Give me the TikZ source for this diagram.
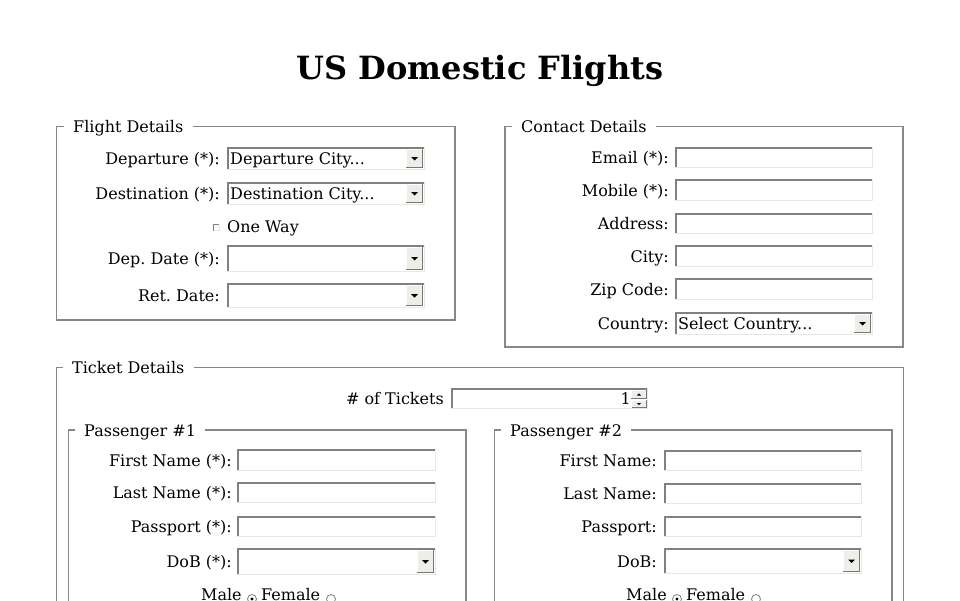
\documentclass[tikz,border=0pt]{standalone}
\usepackage{fontspec}
\setmainfont{DejaVu Serif}
\frenchspacing
\definecolor{fsborder}{RGB}{135,135,135}
\definecolor{indark}{RGB}{128,128,128}
\definecolor{inlight}{RGB}{232,232,226}
\definecolor{btnface}{RGB}{238,237,232}
\definecolor{btnshade}{RGB}{118,118,118}
\tikzset{
  lbl/.style={anchor=base east, inner sep=0, font=\fontsize{16}{19}\selectfont},
  txt/.style={anchor=base west, inner sep=0, font=\fontsize{16}{19}\selectfont},
  fslegend/.style={anchor=base west, inner ysep=0, inner xsep=9pt, font=\fontsize{16}{19}\selectfont},
  fsline/.style={fsborder, line width=1.5},
}
\newcommand\tbox[4]{%
  \fill[white] (#1,#2) rectangle (#3,#4);
  \draw[inlight,line width=1] ({#1},{#4-0.5}) -- ({#3-0.5},{#4-0.5}) -- ({#3-0.5},{#2});
  \draw[indark,line width=1.5] ({#1+0.75},{#4-1}) -- ({#1+0.75},{#2+0.75}) -- ({#3-1},{#2+0.75});
}
\newcommand\combo[4]{%
  \tbox{#1}{#2}{#3}{#4}
  \fill[btnface] ({#3-19},{#2+2}) rectangle ({#3-2},{#4-2});
  \draw[white,line width=1] ({#3-18.5},{#4-2}) -- ({#3-18.5},{#2+2.5}) -- ({#3-2},{#2+2.5});
  \draw[btnshade,line width=1.2] ({#3-19},{#4-2.6}) -- ({#3-2.6},{#4-2.6}) -- ({#3-2.6},{#2+2});
  \fill[black] ({#3-14},{(#2+#4)/2-1.5}) -- ({#3-7},{(#2+#4)/2-1.5}) -- ({#3-10.5},{(#2+#4)/2+2}) -- cycle;
}
\newcommand\fieldset[7]{%
  \node[fslegend] (#1) at (#6,{#3+6}) {#7};
  \coordinate (#1t) at (0,#3);
  \draw[fsline] (#1.east |- #1t) -- (#4,#3) -- (#4,#5) -- (#2,#5) -- (#2,#3) -- (#1.west |- #1t);
}
\newcommand\radio[3]{%
  \draw[indark,line width=0.8,fill=white] (#1,#2) circle (4.5);
  \ifnum#3=1 \fill[black] (#1,#2) circle (1.7);\fi
}
\begin{document}
\begin{tikzpicture}[x=1pt,y=-1pt]
\useasboundingbox (0,0) rectangle (960,600);
\clip (0,0) rectangle (960,600);
\fill[white] (0,0) rectangle (960,600);

\node[anchor=base, inner sep=0, font=\fontsize{32}{38}\selectfont\bfseries] (title) at (480,79) {US Domestic Flights};

% ---------- Flight details
\fieldset{fdl}{56.5}{126.5}{455}{320}{64}{Flight Details}
\node[lbl] (fl1) at (220,164.5) {Departure (*):};
\combo{227}{147}{425}{170}
\node[txt] (fv1) at (230,164.5) {Departure City...};
\node[lbl] (fl2) at (220,199.5) {Destination (*):};
\combo{227}{182}{425}{205}
\node[txt] (fv2) at (230,199.5) {Destination City...};
\fill[white] (212.5,224) rectangle (219.5,231);
\draw[indark,line width=1] (213,230.5) -- (213,224.5) -- (219,224.5);
\draw[inlight,line width=0.8] (213.5,230.6) -- (219.2,230.6) -- (219.2,224.8);
\node[txt] (fl3) at (227,232) {One Way};
\node[lbl] (fl4) at (220,264.5) {Dep. Date (*):};
\combo{227}{245}{425}{272}
\node[lbl] (fl5) at (220,301.5) {Ret. Date:};
\combo{227}{283}{425}{308}

% ---------- Contact details
\fieldset{cdl}{505}{126.5}{903}{347}{512}{Contact Details}
\node[lbl] (cl1) at (669,163.5) {Email (*):};
\tbox{675}{147}{873}{168}
\node[lbl] (cl2) at (669,196) {Mobile (*):};
\tbox{675}{179}{873}{201}
\node[lbl] (cl3) at (669,229.5) {Address:};
\tbox{675}{213}{873}{234}
\node[lbl] (cl4) at (669,262) {City:};
\tbox{675}{245}{873}{267}
\node[lbl] (cl5) at (669,295) {Zip Code:};
\tbox{675}{278}{873}{300}
\node[lbl] (cl6) at (669,329.5) {Country:};
\combo{675}{312}{873}{335}
\node[txt] (cv6) at (678,329.5) {Select Country...};

% ---------- Ticket details
\fieldset{tdl}{56.5}{367.5}{903.5}{640}{63}{Ticket Details}
\node[lbl] (tl1) at (444,404) {\# of Tickets};
\tbox{451}{388}{648}{409}
\node[anchor=base east, inner sep=0, font=\fontsize{16}{19}\selectfont] (tv1) at (631,404) {1};
\fill[btnface] (631,390) rectangle (647,398.4);
\fill[btnface] (631,399.6) rectangle (647,408);
\draw[btnshade,line width=1] (631,398) -- (646.5,398) -- (646.5,390);
\draw[btnshade,line width=1] (631,407.5) -- (646.5,407.5) -- (646.5,399.6);
\draw[white,line width=0.8] (631.4,398) -- (631.4,390.4) -- (646,390.4);
\draw[white,line width=0.8] (631.4,407.5) -- (631.4,400) -- (646,400);
\fill[black] (637,395.5) -- (641,395.5) -- (639,393.3) -- cycle;
\fill[black] (637,403) -- (641,403) -- (639,405.2) -- cycle;

% ---------- Passenger 1
\fieldset{p1l}{68.5}{430}{466}{640}{75}{Passenger \#1}
\node[lbl] (al1) at (232,466) {First Name (*):};
\tbox{237}{449}{436}{471}
\node[lbl] (al2) at (232,498.5) {Last Name (*):};
\tbox{237}{482}{436}{503}
\node[lbl] (al3) at (232,532.5) {Passport (*):};
\tbox{237}{516}{436}{537}
\node[lbl] (al4) at (232,567.5) {DoB (*):};
\combo{237}{548}{436}{575}
\node[txt] (am) at (201,600) {Male};
\radio{252}{599}{1}
\node[txt] (af) at (261,600) {Female};
\radio{331}{599}{0}

% ---------- Passenger 2
\fieldset{p2l}{494.5}{430}{892}{640}{501}{Passenger \#2}
\node[lbl] (bl1) at (657,466) {First Name:};
\tbox{664}{450}{862}{471}
\node[lbl] (bl2) at (657,499.5) {Last Name:};
\tbox{664}{483}{862}{504}
\node[lbl] (bl3) at (657,532.5) {Passport:};
\tbox{664}{516}{862}{537}
\node[lbl] (bl4) at (657,567) {DoB:};
\combo{664}{548}{862}{574}
\node[txt] (bm) at (626,600) {Male};
\radio{677}{599}{1}
\node[txt] (bf) at (686,600) {Female};
\radio{756}{599}{0}
\end{tikzpicture}
\end{document}
